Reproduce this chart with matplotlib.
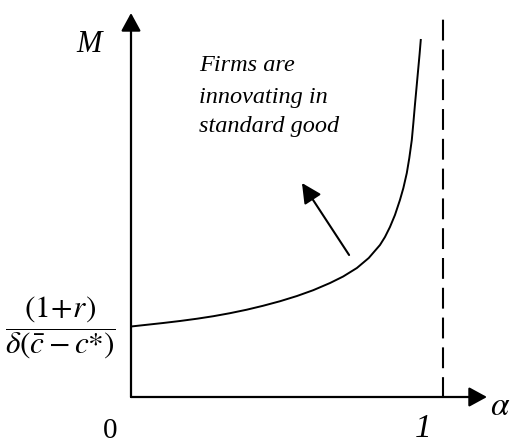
import matplotlib
matplotlib.use("Agg")
import matplotlib.pyplot as plt

# ---- data ----
alpha_vals = [0.000, 0.050, 0.103, 0.157, 0.212, 0.264, 0.317, 0.371, 0.423,
              0.478, 0.532, 0.584, 0.638, 0.680, 0.724, 0.762, 0.798, 0.814,
              0.830, 0.846, 0.862, 0.873, 0.884, 0.892, 0.900, 0.905, 0.910,
              0.915, 0.920, 0.925, 0.929]
M_vals = [0.705, 0.722, 0.740, 0.760, 0.783, 0.808, 0.838, 0.873, 0.912,
          0.958, 1.010, 1.068, 1.140, 1.205, 1.290, 1.390, 1.520, 1.600,
          1.700, 1.820, 1.970, 2.090, 2.240, 2.390, 2.570, 2.740, 2.920,
          3.090, 3.260, 3.430, 3.580]
alpha_limit = 1.0
x_axis_end = 1.141
y_axis_end = 3.84
arrow_tail = (0.699, 1.42)
arrow_head = (0.548, 2.14)
annotation_lines = ["Firms are", "innovating in", "standard good"]

plt.rcParams['mathtext.fontset'] = 'stix'

W, H = 511, 443
fig = plt.figure(figsize=(W / 100, H / 100), dpi=100)
ax = fig.add_axes([0, 0, 1, 1])
ax.set_xlim(-131 / 312, (W - 131) / 312)
ax.set_ylim((397 - H) / 100, 397 / 100)
ax.axis('off')


def P(xp, yp):
    """pixel position (from top-left) -> data coords, for text placement"""
    return (xp - 131) / 312, (397 - yp) / 100


# axes with arrows
ax_style = dict(arrowstyle='-|>,head_length=0.55,head_width=0.3',
                mutation_scale=20, lw=1.6, color='black',
                shrinkA=0, shrinkB=0)
ax.annotate('', xy=(0, y_axis_end), xytext=(0, 0), arrowprops=ax_style)
ax.annotate('', xy=(x_axis_end, 0), xytext=(0, 0), arrowprops=ax_style)

# dashed asymptote at alpha = 1
ax.vlines(alpha_limit, -0.01, y_axis_end, colors='black', lw=1.5,
          linestyles=(0, (10, 4.3)))

# curve
ax.plot(alpha_vals, M_vals, color='black', lw=1.4,
        solid_joinstyle='round', solid_capstyle='butt')

# inner arrow
ax.annotate('', xy=arrow_head, xytext=arrow_tail,
            arrowprops=dict(arrowstyle='-|>,head_length=0.6,head_width=0.3',
                            mutation_scale=20, lw=1.5, color='black',
                            shrinkA=0, shrinkB=0))

serif = 'Liberation Serif'
# annotation text
baselines = [71, 102.7, 131.7]
for line, yb in zip(annotation_lines, baselines):
    ax.text(*P(199, yb), line, fontsize=17.5, family=serif, style='italic',
            ha='left', va='baseline')

# axis labels
ax.text(*P(76, 52.3), 'M', fontsize=22, family=serif, style='italic',
        ha='left', va='baseline')
ax.text(*P(490, 415), r'$\alpha$', fontsize=24, ha='left', va='baseline')
ax.text(*P(110.5, 437.5), '0', fontsize=21, family=serif,
        ha='center', va='baseline')
ax.text(*P(423, 436.7), '1', fontsize=24, family=serif, style='italic',
        ha='center', va='baseline')

# intercept label
ax.text(*P(60.5, 327.5), r'$\dfrac{(1\!+\!r)}{\delta(\bar{c}-c{*})}$',
        fontsize=22.5, ha='center', va='center')

fig.savefig('out.png', dpi=100)
